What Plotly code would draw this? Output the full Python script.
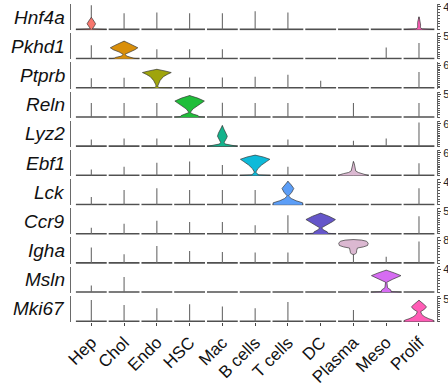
import plotly.graph_objects as go
from plotly.subplots import make_subplots

cell_types = ["Hep", "Chol", "Endo", "HSC", "Mac", "B cells", "T cells", "DC", "Plasma", "Meso", "Prolif"]
genes = ["Hnf4a", "Pkhd1", "Ptprb", "Reln", "Lyz2", "Ebf1", "Lck", "Ccr9", "Igha", "Msln", "Mki67"]
y_tick_max = [4, 5, 6, 5, 6, 6, 4, 5, 8, 4, 5]
cell_colors = ["#F8766D", "#D98F0A", "#9FA40C", "#1FBE3A", "#14B38C", "#0DBAD9",
               "#5C9EF7", "#6556C9", "#DBB8D1", "#D66CF2", "#FF5CB6"]

# maximum expression (top of each violin / tail) per gene, in cell-type order
hnf4a_top = [4.3, 2.9, 3.0, 2.9, 2.9, 3.25, 3.0, 0, 0, 0, 2.25]
pkhd1_top = [3.0, 3.9, 2.1, 2.1, 2.1, 0, 0, 0, 0, 2.5, 3.5]
ptprb_top = [2.6, 2.7, 4.95, 2.8, 2.8, 3.0, 3.5, 1.9, 0, 0, 4.25]
reln_top = [3.1, 3.1, 3.1, 4.77, 3.2, 3.1, 3.1, 0, 3.1, 0, 3.1]
lyz2_top = [1.8, 2.1, 2.1, 2.1, 5.5, 0, 1.8, 0, 1.45, 2.1, 6.3]
ebf1_top = [1.6, 2.35, 3.35, 3.7, 2.8, 5.4, 2.35, 0, 3.7, 0, 3.25]
lck_top = [1.35, 2.6, 2.9, 2.6, 2.6, 2.6, 4.13, 0, 0, 0, 2.9]
ccr9_top = [1.35, 2.25, 2.9, 2.6, 2.6, 1.9, 4.1, 4.58, 0, 0, 3.9]
igha_top = [5.5, 3.1, 6.0, 4.3, 3.9, 3.7, 3.7, 0, 8.3, 2.25, 7.6]
msln_top = [1.2, 2.7, 0, 0, 0, 0, 0, 0, 0, 3.9, 0]
mki67_top = [4.7, 3.6, 2.9, 3.8, 3.3, 2.9, 4.3, 0, 2.5, 0, 4.67]
gene_tops = [hnf4a_top, pkhd1_top, ptprb_top, reln_top, lyz2_top, ebf1_top,
             lck_top, ccr9_top, igha_top, msln_top, mki67_top]

# violin density profiles: expression levels and half-widths (category units)
hnf4a_hep_lv = [0, 0.12, 0.34, 0.7, 1.03, 1.5, 2.18]
hnf4a_hep_hw = [0.47, 0.03, 0.05, 0.1, 0.13, 0.08, 0.0]
hnf4a_prolif_lv = [0, 0.12, 0.35, 0.8, 1.3, 1.8, 2.25]
hnf4a_prolif_hw = [0.45, 0.1, 0.04, 0.05, 0.04, 0.02, 0.0]
pkhd1_chol_lv = [0, 0.1, 0.3, 0.6, 1.0, 1.5, 2.0, 2.43, 2.9, 3.4, 3.9]
pkhd1_chol_hw = [0.47, 0.3, 0.26, 0.08, 0.03, 0.15, 0.33, 0.42, 0.3, 0.15, 0.0]
ptprb_endo_lv = [0, 0.1, 0.39, 1.0, 2.0, 3.0, 3.6, 4.08, 4.5, 4.95]
ptprb_endo_hw = [0.47, 0.08, 0.02, 0.04, 0.1, 0.2, 0.32, 0.44, 0.25, 0.0]
reln_hsc_lv = [0, 0.1, 0.35, 0.7, 1.03, 1.8, 2.6, 3.2, 3.55, 4.2, 4.77]
reln_hsc_hw = [0.47, 0.28, 0.26, 0.1, 0.02, 0.1, 0.25, 0.38, 0.45, 0.25, 0.0]
lyz2_mac_lv = [0, 0.3, 0.6, 1.0, 1.6, 2.2, 2.7, 3.5, 4.5, 5.5]
lyz2_mac_hw = [0.45, 0.25, 0.1, 0.05, 0.08, 0.13, 0.15, 0.12, 0.05, 0.0]
ebf1_b_lv = [0, 0.15, 0.4, 0.85, 1.8, 2.8, 3.7, 4.3, 4.9, 5.4]
ebf1_b_hw = [0.47, 0.1, 0.08, 0.02, 0.08, 0.2, 0.35, 0.45, 0.25, 0.0]
ebf1_plasma_lv = [0, 0.25, 0.5, 0.8, 1.2, 1.8, 2.5, 3.2, 3.7]
ebf1_plasma_hw = [0.45, 0.4, 0.3, 0.15, 0.07, 0.05, 0.04, 0.025, 0.0]
lck_t_lv = [0, 0.34, 0.7, 1.1, 1.55, 2.2, 2.87, 3.5, 4.13]
lck_t_hw = [0.45, 0.45, 0.25, 0.1, 0.02, 0.12, 0.18, 0.1, 0.0]
ccr9_dc_lv = [0, 0.15, 0.45, 0.9, 1.35, 2.0, 2.7, 3.16, 3.9, 4.58]
ccr9_dc_hw = [0.47, 0.22, 0.2, 0.08, 0.03, 0.18, 0.36, 0.45, 0.25, 0.0]
igha_plasma_lv = [3.0, 3.2, 3.6, 4.5, 5.3, 5.7, 6.2, 7.0, 7.7, 8.1, 8.3]
igha_plasma_hw = [0.0, 0.06, 0.09, 0.1, 0.12, 0.3, 0.43, 0.45, 0.4, 0.25, 0.0]
msln_meso_lv = [0, 0.1, 0.4, 0.8, 1.77, 2.3, 2.93, 3.4, 3.9]
msln_meso_hw = [0.47, 0.15, 0.14, 0.04, 0.02, 0.2, 0.45, 0.25, 0.0]
mki67_prolif_lv = [0, 0.25, 0.6, 1.0, 1.5, 2.15, 2.7, 3.23, 3.9, 4.67]
mki67_prolif_hw = [0.45, 0.44, 0.3, 0.18, 0.09, 0.05, 0.17, 0.23, 0.13, 0.0]

violins = [
    ("Hnf4a", "Hep", hnf4a_hep_lv, hnf4a_hep_hw),
    ("Hnf4a", "Prolif", hnf4a_prolif_lv, hnf4a_prolif_hw),
    ("Pkhd1", "Chol", pkhd1_chol_lv, pkhd1_chol_hw),
    ("Ptprb", "Endo", ptprb_endo_lv, ptprb_endo_hw),
    ("Reln", "HSC", reln_hsc_lv, reln_hsc_hw),
    ("Lyz2", "Mac", lyz2_mac_lv, lyz2_mac_hw),
    ("Ebf1", "B cells", ebf1_b_lv, ebf1_b_hw),
    ("Ebf1", "Plasma", ebf1_plasma_lv, ebf1_plasma_hw),
    ("Lck", "T cells", lck_t_lv, lck_t_hw),
    ("Ccr9", "DC", ccr9_dc_lv, ccr9_dc_hw),
    ("Igha", "Plasma", igha_plasma_lv, igha_plasma_hw),
    ("Msln", "Meso", msln_meso_lv, msln_meso_hw),
    ("Mki67", "Prolif", mki67_prolif_lv, mki67_prolif_hw),
]

n = len(genes)
fig = make_subplots(rows=n, cols=1, shared_xaxes=True, vertical_spacing=0.0094)

BASE_HW = 0.47
for r, g in enumerate(genes):
    row = r + 1
    tops = gene_tops[r]
    # flat violin bases
    bx, by = [], []
    for c in range(len(cell_types)):
        bx += [c - BASE_HW, c + BASE_HW, None]
        by += [0, 0, None]
    fig.add_trace(go.Scatter(x=bx, y=by, mode="lines", line=dict(color="#505050", width=2),
                             hoverinfo="skip", showlegend=False), row=row, col=1)
    # thin tails
    sx, sy = [], []
    for c, t in enumerate(tops):
        if t > 0:
            sx += [c, c, None]
            sy += [0, t, None]
    fig.add_trace(go.Scatter(x=sx, y=sy, mode="lines", line=dict(color="#6a6a6a", width=1.1),
                             hoverinfo="skip", showlegend=False), row=row, col=1)
    # filled violins
    for vg, vc, lv, hw in violins:
        if vg != g:
            continue
        c = cell_types.index(vc)
        xs = [c - w for w in hw] + [c + w for w in reversed(hw)]
        ys = list(lv) + list(reversed(lv))
        fig.add_trace(go.Scatter(x=xs, y=ys, mode="lines", fill="toself",
                                 fillcolor=cell_colors[c],
                                 line=dict(color="#3a3a3a", width=0.7),
                                 hoverinfo="skip", showlegend=False), row=row, col=1)
    ym = y_tick_max[r]
    yax = "yaxis" if row == 1 else f"yaxis{row}"
    fig.layout[yax].update(
        range=[-0.025 * ym, 1.13 * ym], side="right", automargin=False,
        tickvals=[ym], ticktext=[str(ym)], ticks="outside", ticklen=3,
        tickcolor="#444", tickwidth=1,
        minor=dict(dtick=1 if ym >= 8 else 0.5, ticks="outside", ticklen=2,
                   tickcolor="#555", tickwidth=1),
        showline=True, mirror=True, linecolor="#6a6a6a", linewidth=1.3,
        showgrid=False, zeroline=False,
        tickfont=dict(family="Liberation Sans, Arial", size=11, color="#222"),
    )
    xax = "xaxis" if row == 1 else f"xaxis{row}"
    fig.layout[xax].update(
        range=[-0.62, 10.55], showgrid=False, zeroline=False, showline=False,
        automargin=False,
        tickmode="array", tickvals=list(range(len(cell_types))), ticktext=cell_types,
        showticklabels=(row == n), ticks="outside" if row == n else "",
        ticklen=3, tickcolor="#444",
        tickangle=-45,
        tickfont=dict(family="Liberation Sans, Arial", size=17, color="#111"),
    )
    fig.add_annotation(
        text=f"<i>{g}</i>", xref="paper", x=0, xanchor="right", xshift=-4,
        yref=f"{'y' if row == 1 else 'y' + str(row)} domain", y=0.5, yanchor="middle",
        showarrow=False,
        font=dict(family="Liberation Sans, Arial", size=19, color="#111"),
    )

fig.update_layout(
    width=448, height=385,
    margin=dict(l=71, r=11, t=4, b=63, autoexpand=False),
    paper_bgcolor="white", plot_bgcolor="white",
    showlegend=False,
)

fig.write_html("out.html", config={"displayModeBar": False},
               post_script="document.body.style.margin='0px';")
